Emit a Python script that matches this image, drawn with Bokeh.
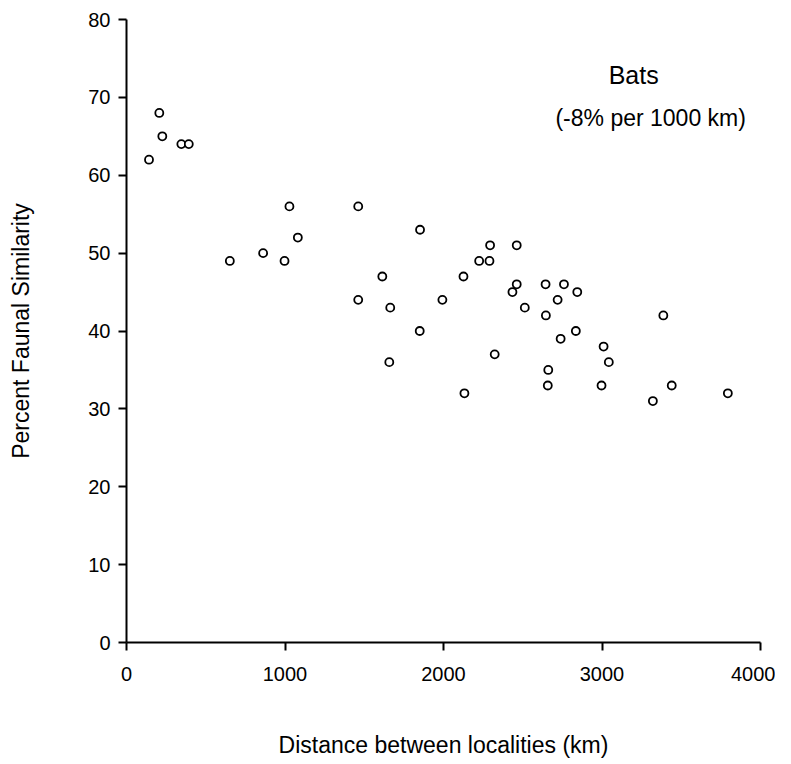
from bokeh.plotting import figure
from bokeh.models import Label, FixedTicker
from bokeh.embed import file_html
from bokeh.resources import INLINE

# Data: distance between localities (km) vs percent faunal similarity (bats)
distance_km = [142, 207, 226, 346, 393, 652, 862, 997, 1028, 1081,
               1462, 1462, 1614, 1664, 1658, 1852, 1850, 1993, 2126, 2132,
               2225, 2290, 2294, 2323, 2462, 2462, 2435, 2513, 2644, 2646,
               2661, 2658, 2720, 2739, 2760, 2835, 2844, 2997, 3010, 3043,
               3321, 3387, 3440, 3794]
similarity = [62, 68, 65, 64, 64, 49, 50, 49, 56, 52,
              56, 44, 47, 43, 36, 53, 40, 44, 47, 32,
              49, 49, 51, 37, 51, 46, 45, 43, 46, 42,
              35, 33, 44, 39, 46, 40, 45, 33, 38, 36,
              31, 42, 33, 32]
x_ticks = [0, 1000, 2000, 3000, 4000]
y_ticks = [0, 10, 20, 30, 40, 50, 60, 70, 80]

FONT = "Liberation Sans"

p = figure(width=775, height=748, x_range=(0, 4000), y_range=(0, 80),
           output_backend="svg", toolbar_location=None,
           min_border_left=126, min_border_top=19, min_border_right=15,
           min_border_bottom=100)
p.frame_width = 634
p.frame_height = 623
p.outline_line_color = None
p.grid.visible = False
p.background_fill_color = "white"
p.border_fill_color = "white"

p.scatter(distance_km, similarity, marker="circle", size=8,
          fill_color="white", line_color="black", line_width=1.8)

for ax in (p.xaxis[0], p.yaxis[0]):
    ax.axis_line_width = 2
    ax.axis_line_color = "black"
    ax.major_tick_line_width = 2
    ax.major_tick_in = 0
    ax.major_tick_out = 8
    ax.minor_tick_line_color = None
    ax.major_label_text_font = FONT
    ax.major_label_text_font_size = "20px"
    ax.major_label_text_color = "black"
    ax.axis_label_text_font = FONT
    ax.axis_label_text_font_size = "23px"
    ax.axis_label_text_font_style = "normal"
    ax.axis_label_text_color = "black"

p.xaxis.ticker = FixedTicker(ticks=x_ticks)
p.yaxis.ticker = FixedTicker(ticks=y_ticks)
p.xaxis.axis_label = "Distance between localities (km)"
p.yaxis.axis_label = "Percent Faunal Similarity"
p.xaxis.major_label_standoff = 16
p.xaxis.axis_label_standoff = 48
p.yaxis.major_label_standoff = 8
p.yaxis.axis_label_standoff = 51

p.add_layout(Label(x=3200, y=72.9, text="Bats", text_align="center",
                   text_baseline="middle", text_font=FONT,
                   text_font_size="25px", text_color="black"))
p.add_layout(Label(x=3307, y=67.3, text="(-8% per 1000 km)",
                   text_align="center", text_baseline="middle",
                   text_font=FONT, text_font_size="23px", text_color="black"))

open("out.html", "w").write(file_html(p, INLINE))
